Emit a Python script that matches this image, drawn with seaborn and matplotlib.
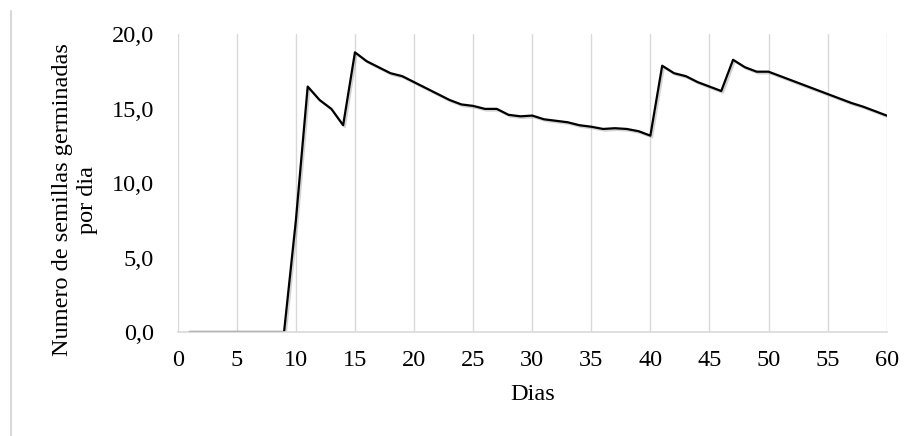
import matplotlib
matplotlib.use("Agg")
import matplotlib.pyplot as plt
import matplotlib.patheffects as pe
from matplotlib.lines import Line2D
import seaborn as sns
import pandas as pd

# ---- data ----
days = list(range(1, 61))
seeds_per_day = [
    0, 0, 0, 0, 0, 0, 0, 0, 0, 7.5,
    16.5, 15.6, 15.0, 13.9, 18.8, 18.2, 17.8, 17.4, 17.2, 16.8,
    16.4, 16.0, 15.6, 15.3, 15.2, 15.0, 15.0, 14.6, 14.5, 14.55,
    14.3, 14.2, 14.1, 13.9, 13.8, 13.65, 13.7, 13.65, 13.5, 13.2,
    17.9, 17.4, 17.2, 16.8, 16.5, 16.2, 18.3, 17.8, 17.5, 17.5,
    17.2, 16.9, 16.6, 16.3, 16.0, 15.7, 15.4, 15.15, 14.85, 14.55,
]
x_ticks = [0, 5, 10, 15, 20, 25, 30, 35, 40, 45, 50, 55, 60]
y_ticks = [0, 5, 10, 15, 20]
y_tick_labels = ["0,0", "5,0", "10,0", "15,0", "20,0"]
x_label = "Dias"
y_label = "Numero de semillas germinadas\npor dia"

df = pd.DataFrame({"dia": days, "semillas": seeds_per_day})

sns.set_theme(style="white")
plt.rcParams["font.family"] = ["Liberation Serif", "DejaVu Serif"]

FS = 17.5

fig = plt.figure(figsize=(9.16, 4.36), dpi=100)
ax = fig.add_axes([177.7 / 916, 1 - 332 / 436, (886.7 - 177.7) / 916, (332 - 34.5) / 436])

sns.lineplot(data=df, x="dia", y="semillas", ax=ax, color="black", linewidth=1.6,
             path_effects=[pe.SimpleLineShadow(offset=(1.2, -1.2), shadow_color="gray", alpha=0.35),
                           pe.Normal()])

ax.set_xlim(0, 60)
ax.set_ylim(0, 20)
ax.set_xticks(x_ticks)
ax.set_xticklabels([str(t) for t in x_ticks])
ax.set_yticks(y_ticks)
ax.set_yticklabels(y_tick_labels)
ax.tick_params(axis="x", length=0, pad=13, labelsize=FS, colors="black")
ax.tick_params(axis="y", length=0, pad=17, labelsize=FS, colors="black")

ax.grid(axis="x", color="#d9d9d9", linewidth=1.0)
ax.grid(axis="y", visible=False)
ax.set_axisbelow(True)
for s in ["top", "right", "left"]:
    ax.spines[s].set_visible(False)
ax.spines["bottom"].set_color("#d9d9d9")
ax.spines["bottom"].set_linewidth(1.2)

ax.set_xlabel(x_label, fontsize=FS, color="black", labelpad=9)
ax.set_ylabel(y_label, fontsize=FS, color="black", multialignment="center")
ax.yaxis.label.set_rotation_mode("default")
ax.yaxis.label.set_verticalalignment("center")
ax.yaxis.label.set_horizontalalignment("center")
ax.yaxis.set_label_coords((75 - 177.7) / 709, (332 - 200) / 297.5)

fig.add_artist(Line2D([11 / 916, 11 / 916], [0, 1 - 11 / 436], color="#d9d9d9", linewidth=1.5))

fig.savefig("out.png", dpi=100)
